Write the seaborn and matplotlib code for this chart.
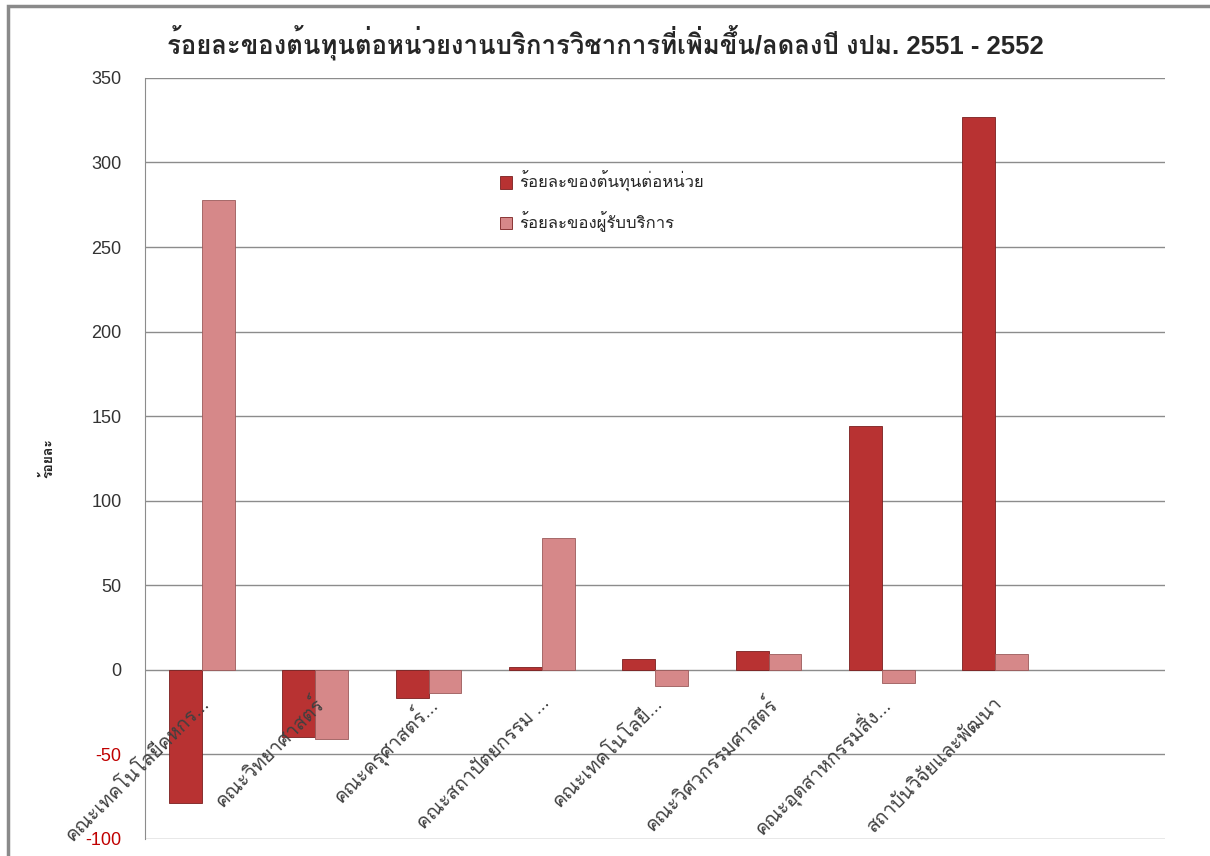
import numpy as np
import pandas as pd
import seaborn as sns
import matplotlib
matplotlib.use('Agg')
import matplotlib.pyplot as plt
from matplotlib import font_manager
from matplotlib.ft2font import FT2Font
from matplotlib.transforms import ScaledTranslation
from matplotlib.patches import Rectangle

# ข้อมูล
categories = ["คณะเทคโนโลยีคหกร...", "คณะวิทยาศาสตร์", "คณะครุศาสตร์...",
              "คณะสถาปัตยกรรม ...", "คณะเทคโนโลยี...", "คณะวิศวกรรมศาสตร์",
              "คณะอุตสาหกรรมสิ่ง...", "สถาบันวิจัยและพัฒนา"]
series_names = ["ร้อยละของต้นทุนต่อหน่วย", "ร้อยละของผู้รับบริการ"]
cost_pct = [-79, -40, -16.5, 1.5, 6.5, 11, 144, 327]
client_pct = [278, -41, -13.5, 78, -9.5, 9.5, -8, 9.5]
yticks = [-100, -50, 0, 50, 100, 150, 200, 250, 300, 350]

title = "ร้อยละของต้นทุนต่อหน่วยงานบริการวิชาการที่เพิ่มขึ้น/ลดลงปี งปม. 2551 - 2552"
ylabel = "ร้อยละ"


def find_thai_font():
    # หา font ที่มีอักษรไทย
    for f in font_manager.fontManager.ttflist:
        try:
            if 0x0E23 in FT2Font(f.fname).get_charmap():
                return f.name
        except Exception:
            pass
    return None


sns.set_style("white")
thai = find_thai_font()
fams = ['Liberation Sans']
if thai:
    fams.append(thai)
fams.append('DejaVu Sans')
plt.rcParams['font.family'] = fams
plt.rcParams['axes.unicode_minus'] = False

df = pd.DataFrame({
    'category': categories * 2,
    'series': [series_names[0]] * len(categories) + [series_names[1]] * len(categories),
    'value': cost_pct + client_pct,
})

fig = plt.figure(figsize=(12.1, 8.56), dpi=100)
ax = fig.add_axes([0.12, 0.02, 0.843, 0.889])

sns.barplot(data=df, x='category', y='value', hue='series', ax=ax,
            palette=['#B83232', '#D68889'], width=0.58, saturation=1,
            edgecolor='#7a1f1f', linewidth=0.6)
for p in ax.patches[len(categories):2 * len(categories)]:
    p.set_edgecolor('#9a5a5a')

ax.set_xlim(-0.5, 8.5)
ax.set_ylim(-100, 350)
ax.set_yticks(yticks)
ax.yaxis.grid(True, color='#8c8c8c', linewidth=1)
ax.set_axisbelow(True)
# ชื่อหมวดอยู่เหนือแท่ง แต่เส้นกริดอยู่ใต้แท่ง
ax.xaxis.set_zorder(3)
for s in ['top', 'right']:
    ax.spines[s].set_visible(False)
ax.spines['left'].set_color('#8c8c8c')
ax.spines['bottom'].set_position(('data', 0))
ax.spines['bottom'].set_visible(False)

ax.tick_params(axis='y', direction='out', length=9, color='#8c8c8c',
               labelsize=13, labelcolor='#333333', pad=8)
ax.tick_params(axis='x', length=0, labelsize=14, labelcolor='#404040')
for lbl, v in zip(ax.get_yticklabels(), yticks):
    if v < 0:
        lbl.set_color('#c00000')

ax.set_xticks(range(len(categories)))
ax.set_xticklabels(categories, rotation=45, ha='right', va='center',
                   rotation_mode='anchor')
for lbl in ax.get_xticklabels():
    lbl.set_transform(lbl.get_transform() + ScaledTranslation(0.05, -0.26, fig.dpi_scale_trans))

ax.set_xlabel('')
ax.set_ylabel(ylabel, fontsize=10, fontweight='bold', labelpad=22)
fig.suptitle(title, x=0.5, y=0.97, fontsize=18.5, fontweight='bold')

leg = ax.legend(loc='upper left', bbox_to_anchor=(0.333, 0.897), frameon=False,
                fontsize=12, handlelength=0.75, handleheight=0.75,
                labelspacing=1.15, handletextpad=0.4)

# กรอบรอบแผนภูมิ
fig.patches.append(Rectangle((8 / 1210, -0.01), 1.0, 1 - 6 / 856 + 0.01,
                             transform=fig.transFigure, fill=False,
                             edgecolor='#8a8a8a', linewidth=2.5))

fig.savefig('out.png', dpi=100)
